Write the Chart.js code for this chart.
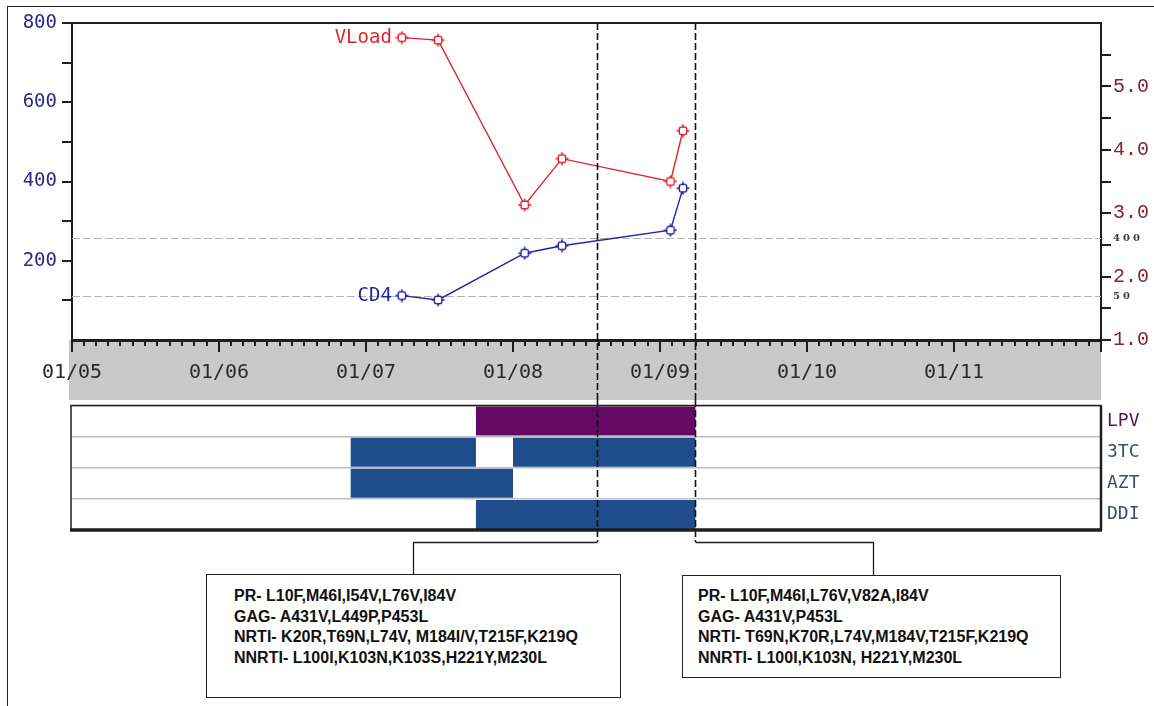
<!DOCTYPE html>
<html>
<head>
<meta charset="utf-8">
<script src="https://cdn.jsdelivr.net/npm/chart.js@4/dist/chart.umd.min.js"></script>
<style>
  html, body { margin: 0; padding: 0; background: #fff; }
  body { width: 1154px; height: 706px; position: relative; overflow: hidden; }
  #frame { position: absolute; left: 7px; top: 6px; width: 1200px; height: 760px;
           border-top: 1.5px solid #222; border-left: 1.5px solid #222; }
  #labs { position: absolute; left: 0; top: 0; }
  #drugs { position: absolute; left: 0; top: 400px; }
  .note { position: absolute; box-sizing: border-box; border: 1px solid #222; background: #fff;
          font: bold 16px "Liberation Sans", Arial, sans-serif; line-height: 20.5px;
          color: #111; white-space: nowrap; }
  #note1 { left: 206px; top: 574px; width: 415px; height: 124px; padding: 11px 0 0 27px; }
  #note2 { left: 682px; top: 575px; width: 379px; height: 103px; padding: 10px 0 0 15px; }
</style>
</head>
<body>
<div id="frame"></div>
<canvas id="labs" width="1154" height="400" style="width:1154px;height:400px"></canvas>
<canvas id="drugs" width="1154" height="180" style="width:1154px;height:180px"></canvas>
<div class="note" id="note1"></div>
<div class="note" id="note2"></div>
<script>
// ---- lab results ----
const sampleDates = ['2007-03-31', '2007-06-29', '2008-01-30', '2008-05-02', '2009-01-27', '2009-02-27'];
const cd4Counts = [112, 101, 219, 238, 277, 383];
const vloadLog = [5.77, 5.73, 3.13, 3.86, 3.50, 4.30];
const vloadThresholds = [400, 50];

// ---- resistance tests ----
const genotypeDates = ['2008-07-29', '2009-03-30'];
const mutationsFirst = [
  'PR- L10F,M46I,I54V,L76V,I84V',
  'GAG- A431V,L449P,P453L',
  'NRTI- K20R,T69N,L74V, M184I/V,T215F,K219Q',
  'NNRTI- L100I,K103N,K103S,H221Y,M230L'
];
const mutationsSecond = [
  'PR- L10F,M46I,L76V,V82A,I84V',
  'GAG- A431V,P453L',
  'NRTI- T69N,K70R,L74V,M184V,T215F,K219Q',
  'NNRTI- L100I,K103N, H221Y,M230L'
];

// ---- treatment history ----
const drugNames = ['LPV', '3TC', 'AZT', 'DDI'];
const periodDrug = ['LPV', '3TC', '3TC', 'AZT', 'DDI'];
const periodStart = ['2007-10-01', '2006-11-24', '2008-01-01', '2006-11-24', '2007-10-01'];
const periodStop = ['2009-03-30', '2007-10-01', '2009-03-30', '2008-01-01', '2009-03-30'];

// ---- axis ticks ----
const firstYear = 2005;
const lastYear = 2012;
const yearLabels = ['01/05', '01/06', '01/07', '01/08', '01/09', '01/10', '01/11'];
const cd4TickValues = [100, 200, 300, 400, 500, 600, 700, 800];
const cd4TickLabels = ['', '200', '', '400', '', '600', '', '800'];
const vlTickValues = [1, 1.5, 2, 2.5, 3, 3.5, 4, 4.5, 5, 5.5];
const vlTickLabels = ['1.0', '', '2.0', '', '3.0', '', '4.0', '', '5.0', ''];

function toYear(s) {
  const [y, m, d] = s.split('-').map(Number);
  const a = Date.UTC(y, 0, 1), b = Date.UTC(y + 1, 0, 1);
  return y + (Date.UTC(y, m - 1, d) - a) / (b - a);
}

const monthTicks = [];
for (let y = firstYear; y < lastYear; y++) {
  for (let m = 1; m <= 12; m++) monthTicks.push(toYear(y + '-' + String(m).padStart(2, '0') + '-01'));
}
monthTicks.push(lastYear);

const ink = '#1e1e1e';

function makeMarker(color) {
  const c = document.createElement('canvas');
  c.width = 14; c.height = 14;
  const g = c.getContext('2d');
  g.strokeStyle = color; g.fillStyle = '#fff'; g.lineWidth = 1.4;
  g.beginPath();
  if (g.roundRect) g.roundRect(3.3, 3.3, 7.4, 7.4, 2); else g.rect(3.3, 3.3, 7.4, 7.4);
  g.fill(); g.stroke();
  g.beginPath();
  g.moveTo(7, 0.5); g.lineTo(7, 3.3);
  g.moveTo(7, 10.7); g.lineTo(7, 13.5);
  g.moveTo(0.5, 7); g.lineTo(3.3, 7);
  g.moveTo(10.7, 7); g.lineTo(13.5, 7);
  g.stroke();
  return c;
}

function dashedGenotypeLines(chart, yFrom, yTo) {
  const ctx = chart.ctx, xs = chart.scales.x;
  ctx.save();
  ctx.strokeStyle = '#111'; ctx.lineWidth = 1.6; ctx.setLineDash([7, 3]);
  genotypeDates.forEach(d => {
    const x = Math.round(xs.getPixelForValue(toYear(d))) + 0.5;
    ctx.beginPath(); ctx.moveTo(x, yFrom); ctx.lineTo(x, yTo); ctx.stroke();
  });
  ctx.restore();
}

// Upper panel: CD4 count and log viral load over time
const labDecor = {
  id: 'labDecor',
  beforeDraw(chart) {
    const { ctx, chartArea: a } = chart;
    ctx.save();
    ctx.fillStyle = '#c9c9c9';
    ctx.fillRect(a.left - 3, a.bottom, a.right - a.left + 3, chart.height - a.bottom);
    ctx.restore();
  },
  beforeDatasetsDraw(chart) {
    const { ctx, chartArea: a } = chart;
    const vs = chart.scales.yVL;
    ctx.save();
    vloadThresholds.forEach(t => {
      const y = Math.round(vs.getPixelForValue(Math.log10(t))) + 0.5;
      ctx.strokeStyle = '#b4b4b4'; ctx.lineWidth = 1; ctx.setLineDash([8, 3]);
      ctx.beginPath(); ctx.moveTo(a.left, y); ctx.lineTo(a.right, y); ctx.stroke();
      ctx.setLineDash([]);
      ctx.fillStyle = '#3a3a3a';
      ctx.font = 'bold 10px "DejaVu Serif"';
      ctx.letterSpacing = '3px';
      ctx.textAlign = 'left'; ctx.textBaseline = 'middle';
      ctx.fillText(String(t), a.right + 12, y);
    });
    ctx.restore();
  },
  afterDatasetsDraw(chart) {
    const { ctx, chartArea: a } = chart;
    ctx.save();
    ctx.font = '19px "DejaVu Sans Mono"';
    ctx.textAlign = 'right'; ctx.textBaseline = 'middle';
    chart.data.datasets.forEach((ds, i) => {
      const p = chart.getDatasetMeta(i).data[0];
      ctx.fillStyle = ds.borderColor;
      ctx.fillText(ds.label, p.x - 10, p.y);
    });
    ctx.restore();
    dashedGenotypeLines(chart, a.top, chart.height);
  },
  afterDraw(chart) {
    const { ctx, chartArea: a } = chart;
    const xs = chart.scales.x;
    ctx.save();
    ctx.strokeStyle = ink;
    ctx.lineWidth = 2;
    ctx.beginPath(); ctx.moveTo(a.left - 1, a.top); ctx.lineTo(a.right + 1, a.top); ctx.stroke();
    for (let y = firstYear; y <= lastYear; y++) {
      const x = Math.round(xs.getPixelForValue(y));
      ctx.beginPath(); ctx.moveTo(x, a.bottom); ctx.lineTo(x, a.bottom + 12); ctx.stroke();
    }
    ctx.restore();
  }
};

new Chart(document.getElementById('labs'), {
  type: 'line',
  data: {
    datasets: [
      {
        label: 'VLoad',
        data: sampleDates.map((d, i) => ({ x: toYear(d), y: vloadLog[i] })),
        yAxisID: 'yVL',
        borderColor: '#e0242a',
        borderWidth: 1.4,
        pointStyle: makeMarker('#e0242a'),
        pointRadius: 5,
        tension: 0
      },
      {
        label: 'CD4',
        data: sampleDates.map((d, i) => ({ x: toYear(d), y: cd4Counts[i] })),
        yAxisID: 'yCD4',
        borderColor: '#2424a4',
        borderWidth: 1.4,
        pointStyle: makeMarker('#2424a4'),
        pointRadius: 5,
        tension: 0
      }
    ]
  },
  options: {
    responsive: false,
    animation: false,
    events: [],
    layout: { padding: { top: 23, left: 0, right: 0, bottom: 0 } },
    plugins: { legend: { display: false }, tooltip: { enabled: false } },
    scales: {
      x: {
        type: 'linear', min: firstYear, max: lastYear, position: 'bottom',
        afterBuildTicks: s => { s.ticks = monthTicks.map(v => ({ value: v })); },
        afterFit: s => { s.height = 60; },
        grid: { drawOnChartArea: false, drawTicks: true, tickLength: 6, color: ink, lineWidth: 2 },
        border: { display: true, color: ink, width: 3 },
        ticks: {
          autoSkip: false, maxRotation: 0, minRotation: 0, padding: 15,
          color: '#2a2a2a', font: { family: 'DejaVu Sans Mono', size: 20 },
          callback: v => {
            const r = Math.round(v);
            return Math.abs(v - r) < 1e-6 && r < lastYear ? yearLabels[r - firstYear] : '';
          }
        }
      },
      yCD4: {
        type: 'linear', position: 'left', min: 0, max: 800,
        afterBuildTicks: s => { s.ticks = cd4TickValues.map(v => ({ value: v })); },
        afterFit: s => { s.width = 72; },
        grid: { drawOnChartArea: false, drawTicks: true, tickLength: 10, color: ink, lineWidth: 2 },
        border: { display: true, color: ink, width: 2 },
        ticks: {
          padding: 5, color: '#2b2b86', font: { family: 'DejaVu Sans Mono', size: 19 },
          callback: v => cd4TickLabels[cd4TickValues.indexOf(v)] ?? ''
        }
      },
      yVL: {
        type: 'linear', position: 'right', min: 1, max: 6,
        afterBuildTicks: s => { s.ticks = vlTickValues.map(v => ({ value: v })); },
        afterFit: s => { s.width = 53; },
        grid: { drawOnChartArea: false, drawTicks: true, tickLength: 10, color: ink, lineWidth: 2 },
        border: { display: true, color: ink, width: 2 },
        ticks: {
          padding: 2, color: '#84202f', font: { family: 'Liberation Mono', size: 20 },
          callback: v => vlTickLabels[vlTickValues.indexOf(v)] ?? ''
        }
      }
    }
  },
  plugins: [labDecor]
});

// Lower panel: antiretroviral drug periods
const noteAnchorX = [413, 873];
const noteTopY = [174, 175];
const drugDecor = {
  id: 'drugDecor',
  afterDraw(chart) {
    const { ctx, chartArea: a } = chart;
    const joinY = a.bottom + 12;
    dashedGenotypeLines(chart, 0, joinY);
    ctx.save();
    ctx.strokeStyle = ink;
    ctx.lineWidth = 1.5;
    ctx.strokeRect(a.left - 1, a.top, a.right - a.left + 1, a.bottom - a.top);
    ctx.lineWidth = 2.5;
    ctx.beginPath(); ctx.moveTo(a.right, a.top); ctx.lineTo(a.right, a.bottom); ctx.stroke();
    ctx.lineWidth = 3.5;
    ctx.beginPath(); ctx.moveTo(a.left - 2, a.bottom); ctx.lineTo(a.right + 1, a.bottom); ctx.stroke();
    ctx.lineWidth = 1.3;
    genotypeDates.forEach((d, i) => {
      const x = Math.round(chart.scales.x.getPixelForValue(toYear(d))) + 0.5;
      ctx.beginPath();
      ctx.moveTo(x, joinY + 0.5);
      ctx.lineTo(noteAnchorX[i] + 0.5, joinY + 0.5);
      ctx.lineTo(noteAnchorX[i] + 0.5, noteTopY[i]);
      ctx.stroke();
    });
    ctx.restore();
  }
};

const barCommon = { grouped: false, barPercentage: 1, categoryPercentage: 0.93, borderWidth: 0 };
const periods = periodDrug.map((g, i) => ({ y: g, x: [toYear(periodStart[i]), toYear(periodStop[i])] }));

new Chart(document.getElementById('drugs'), {
  type: 'bar',
  data: {
    labels: drugNames,
    datasets: [
      Object.assign({ data: periods.filter(p => p.y === 'LPV'), backgroundColor: '#640a64' }, barCommon),
      Object.assign({ data: periods.filter(p => p.y !== 'LPV'), backgroundColor: '#1f4d8b' }, barCommon)
    ]
  },
  options: {
    indexAxis: 'y',
    responsive: false,
    animation: false,
    events: [],
    layout: { padding: { top: 5.5, left: 72, right: 0, bottom: 50 } },
    plugins: { legend: { display: false }, tooltip: { enabled: false } },
    scales: {
      x: { type: 'linear', min: firstYear, max: lastYear, display: false },
      y: {
        type: 'category', position: 'right',
        afterFit: s => { s.width = 53; s.paddingTop = 0; s.paddingBottom = 0; },
        grid: { offset: true, drawTicks: false, color: '#bdbdbd', lineWidth: 1.5 },
        border: { display: false },
        ticks: {
          padding: 6,
          color: c => c.index === 0 ? '#5a1450' : '#3c4c6c',
          font: { family: 'DejaVu Sans Mono', size: 18 }
        }
      }
    }
  },
  plugins: [drugDecor]
});

// Mutation lists for each resistance test
[[mutationsFirst, 'note1'], [mutationsSecond, 'note2']].forEach(([lines, id]) => {
  const box = document.getElementById(id);
  lines.forEach(t => {
    const row = document.createElement('div');
    row.textContent = t;
    box.appendChild(row);
  });
});
</script>
</body>
</html>
